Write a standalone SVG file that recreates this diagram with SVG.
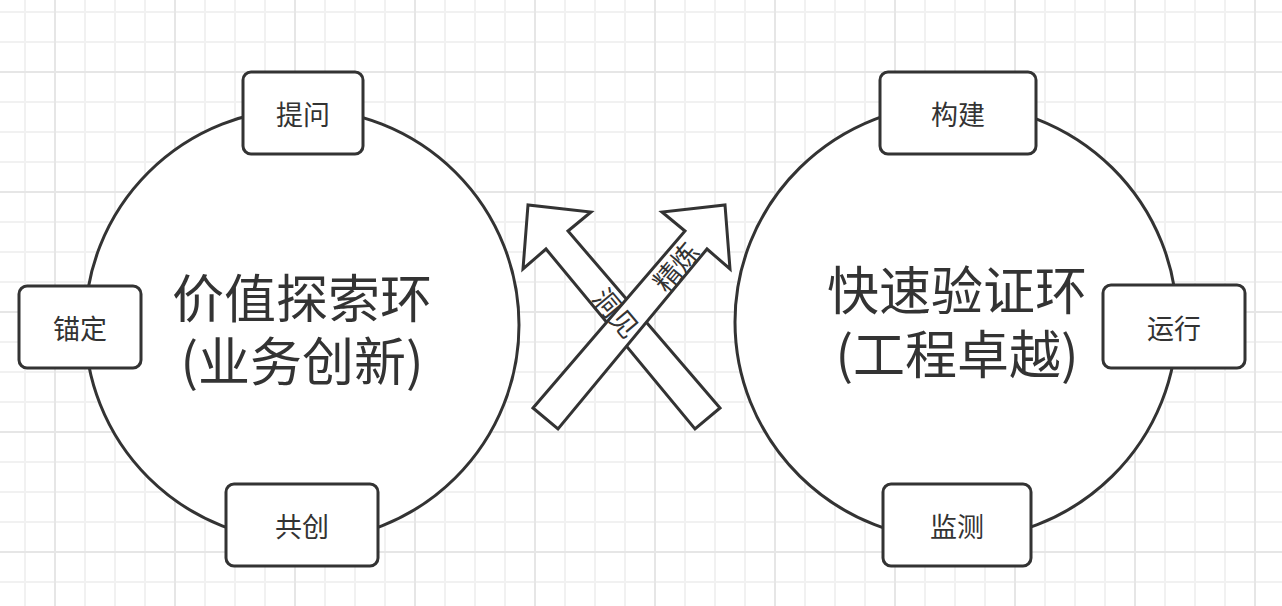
<svg xmlns="http://www.w3.org/2000/svg" width="1282" height="606" viewBox="0 0 1282 606">
<defs>
<style>
.sh{fill:#fff;stroke:#333;stroke-width:3;stroke-linejoin:miter}
.bx{fill:#fff;stroke:#333;stroke-width:3}
.t{font-family:"Noto Sans CJK SC","Noto Sans",sans-serif;fill:#333;text-anchor:middle;dominant-baseline:central}
.s{font-size:27px}
.b{font-size:52px}
.a{font-size:27px}
</style>
<pattern id="minor" x="24" y="11" width="30" height="30" patternUnits="userSpaceOnUse">
<rect x="0" y="0" width="2" height="30" fill="#f1f1f1"/>
<rect x="0" y="0" width="30" height="2" fill="#f1f1f1"/>
</pattern>
<pattern id="major" x="54" y="71" width="120" height="120" patternUnits="userSpaceOnUse">
<rect x="0" y="0" width="2" height="120" fill="#e6e6e6"/>
<rect x="0" y="0" width="120" height="2" fill="#e6e6e6"/>
</pattern>
</defs>
<rect width="1282" height="606" fill="#fff"/>
<rect width="1282" height="606" fill="url(#minor)"/>
<rect width="1282" height="606" fill="url(#major)"/>

<g id="loop-left">
<ellipse class="sh" cx="302" cy="325" rx="217" ry="216"/>
<text class="t b" x="302" y="295">价值探索环</text>
<text class="t b" x="302" y="358">(业务创新)</text>
</g>
<g id="loop-right">
<ellipse class="sh" cx="956" cy="322" rx="221" ry="218"/>
<text class="t b" x="957" y="287">快速验证环</text>
<text class="t b" x="957" y="351">(工程卓越)</text>
</g>

<g id="node-tiwen">
<rect class="bx" x="243" y="72" width="120" height="82" rx="8"/>
<text class="t s" x="303" y="113">提问</text>
</g>
<g id="node-maoding">
<rect class="bx" x="19" y="286" width="122" height="82" rx="8"/>
<text class="t s" x="80" y="327">锚定</text>
</g>
<g id="node-gongchuang">
<rect class="bx" x="226" y="484" width="152" height="82" rx="8"/>
<text class="t s" x="302" y="525">共创</text>
</g>
<g id="node-goujian">
<rect class="bx" x="880" y="72" width="156" height="82" rx="8"/>
<text class="t s" x="958" y="113">构建</text>
</g>
<g id="node-yunxing">
<rect class="bx" x="1103" y="285" width="142" height="83" rx="8"/>
<text class="t s" x="1174" y="327">运行</text>
</g>
<g id="node-jiance">
<rect class="bx" x="883" y="484" width="148" height="82" rx="8"/>
<text class="t s" x="957" y="525">监测</text>
</g>

<g id="connectors">
<polygon id="arrow-insight" class="sh" points="720,408 568,231 591,212 528,205 523,269 546,249 695,429"/>
<polygon id="arrow-refine" class="sh" points="533,408 685,231 662,212 725,205 730,269 707,249 558,429"/>
<text id="label-insight" class="t a" x="0" y="0" transform="translate(617,312) rotate(50)">洞见</text>
<text id="label-refine" class="t a" x="0" y="0" transform="translate(675,266) rotate(-50)">精炼</text>
</g>
</svg>
